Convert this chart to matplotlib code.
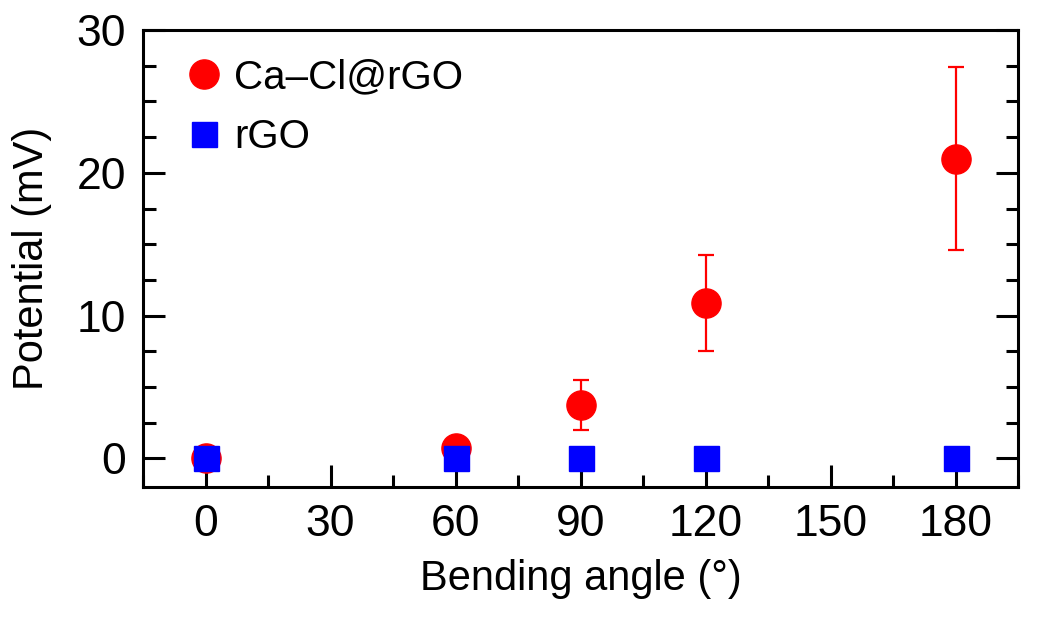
import matplotlib
matplotlib.use("Agg")
import matplotlib.pyplot as plt
from matplotlib.ticker import MultipleLocator
from matplotlib.lines import Line2D

plt.rcParams['font.family'] = ['Liberation Sans Narrow', 'Liberation Sans', 'DejaVu Sans']

angle = [0, 60, 90, 120, 180]
cacl = [0.0, 0.75, 3.75, 10.9, 21.0]
cacl_err = [0.0, 0.0, 1.75, 3.35, 6.4]
rgo = [0.0, 0.0, 0.0, 0.0, 0.0]

fig = plt.figure(figsize=(10.39, 6.24), dpi=100)
ax = fig.add_axes([143/1039, 1 - 487/624, (1018-143)/1039, (487-30)/624])

ax.errorbar(angle, cacl, yerr=cacl_err, fmt='o', color='#ff0000', ms=21,
            elinewidth=1.6, capsize=6, capthick=1.6, zorder=3)
ax.plot(angle, rgo, 's', color='#0000ff', ms=18, zorder=4)

ax.set_xlim(-15, 195)
ax.set_ylim(-2, 30)
ax.xaxis.set_major_locator(MultipleLocator(30))
ax.xaxis.set_minor_locator(MultipleLocator(15))
ax.yaxis.set_major_locator(MultipleLocator(10))
ax.yaxis.set_minor_locator(MultipleLocator(2.5))
ax.tick_params(which='both', direction='in', left=True, right=True, top=False,
               width=2.2, labelsize=32)
ax.tick_params(axis='x', pad=12)
ax.tick_params(axis='y', pad=12)
ax.tick_params(which='major', length=16)
ax.tick_params(which='minor', length=9)
for s in ax.spines.values():
    s.set_linewidth(2.2)

ax.set_xlabel('Bending angle (\u00b0)', fontsize=30, labelpad=10)
ax.set_ylabel('Potential (mV)', fontsize=30, labelpad=18)

handles = [Line2D([], [], ls='none', marker='o', color='#ff0000', ms=21),
           Line2D([], [], ls='none', marker='s', color='#0000ff', ms=18)]
ax.legend(handles, ['Ca\u2013Cl@rGO', 'rGO'], loc='upper left', frameon=False,
          fontsize=29, handletextpad=0.0, labelspacing=0.55, handlelength=1.5,
          borderaxespad=0, bbox_to_anchor=(0.017, 0.974))

fig.savefig('out.png', dpi=100)
